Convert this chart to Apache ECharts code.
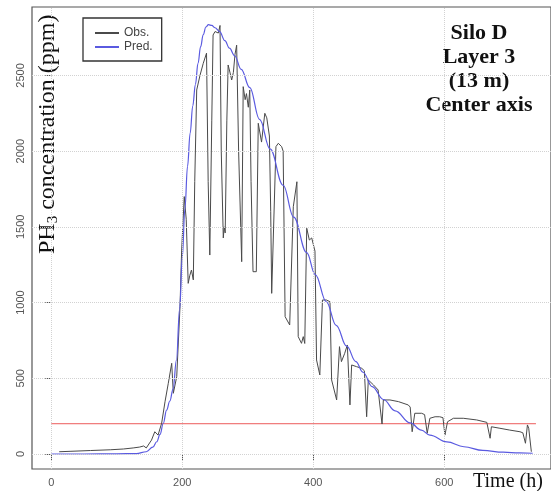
<!DOCTYPE html>
<html>
<head>
<meta charset="utf-8">
<script src="https://cdn.jsdelivr.net/npm/echarts@6/dist/echarts.min.js"></script>
<style>html,body{margin:0;padding:0;background:#fff}#c{width:551px;height:491px}</style>
</head>
<body>
<div id="c"></div>
<script>
// ---- data ----
var obsX = [12,30,60,90,110,125,135,141,145,153,158,163,168.5,173.6,178.6,183.8,186.3,191.5,196.5,199,203,206,209,211.5,214,216.8,219,222,227,232,237,239.5,242,245,247,250,253,255,257.6,259.5,262.6,264,265.5,268,270,273,275.4,278,280.5,283,286,290.7,293,296,298,300.8,303,305,308,313,316,321,326,329,333,335,336.5,339,343,346.6,351.7,354,357,364,369.5,375,377,382,384.7,387,390,394,397.6,402.6,405,410,414,420,425.5,428,435.7,440,443,448,452,456,458.6,466,474,478,481.5,484,492,499,502,505,507,517,530,545,548,551,555,565.5,570,574,578,586,593,598,601,605,614,629,649.5,665,668,670,672,685,700,715.6,720,724,727,729,733];
var obsY = [15,18,23,28,33,40,46,53,40,92,147,125,204,345,467,599,401,511,973,1347,1700,1550,1127,1180,1215,1150,1800,2404,2500,2580,2647,1800,1314,2200,2767,2790,2778,2780,2830,2000,1427,1500,1460,2200,2569,2516,2470,2520,2640,2700,2000,1270,2426,2340,2380,2290,2404,1800,1204,1204,2184,2060,2250,2220,2100,1600,1061,1050,2030,2052,2030,2000,907,852,1633,1798,775,731,775,730,1491,1413,1427,1340,621,522,1017,1017,1006,489,357,709,610,665,720,324,588,577,566,550,246,489,456,423,410,198,357,357,346,324,310,147,269,269,260,137,236,246,246,240,125,213,236,236,225,209,200,104,180,170,158,147,140,71,192,170,15];
var predX = [0,50,100,130,145,155,161,166,171,176,181,186,191,196,200,204,208,212,216,220,224,228,232,236,240,245,250,257,265,272,280,290,303,318,334,354,370,390,403,420,435,451,465,476,490,507,525,548,565,578,604,630,659,690,715,735];
var predY = [0,0,1,3,15,45,81,130,203,290,350,430,620,960,1300,1620,1900,2120,2300,2440,2580,2690,2770,2820,2835,2830,2815,2790,2730,2680,2630,2540,2420,2210,2015,1775,1565,1330,1185,1005,850,712,610,540,445,360,285,205,158,125,80,48,24,12,7,5];
var thresholdX = [0, 740];
var thresholdY = [200, 200];
var xTicks = [0, 200, 400, 600];
var yTicks = [0, 500, 1000, 1500, 2000, 2500];

function zip(a, b) { return a.map(function (v, i) { return [v, b[i]]; }); }

var chart = echarts.init(document.getElementById('c'), null, {renderer: 'canvas'});
var gridLine = {color: '#d2d2d2', type: 'dotted', width: 1};
var serif = '"Liberation Serif", "Times New Roman", serif';
var sans = 'Liberation Sans, Arial, sans-serif';
var option = {
  animation: false,
  backgroundColor: '#fff',
  grid: {left: 32, top: 7, right: 0, bottom: 22, show: true, borderColor: '#555', borderWidth: 1.2, backgroundColor: 'transparent'},
  xAxis: {
    type: 'value', min: -29.5, max: 763,
    axisLine: {show: false},
    splitLine: {show: false},
    axisTick: {show: true, customValues: xTicks, length: 6, lineStyle: {color: '#555'}},
    axisLabel: {customValues: xTicks, color: '#555', fontSize: 11, fontFamily: sans, margin: 8, formatter: function (v) { return String(v); }}
  },
  yAxis: {
    type: 'value', min: -99, max: 2952,
    axisLine: {show: false},
    splitLine: {show: false},
    axisTick: {show: true, customValues: yTicks, length: 6, lineStyle: {color: '#555'}},
    axisLabel: {customValues: yTicks, color: '#555', fontSize: 11, rotate: 90, fontFamily: sans, margin: 6, formatter: function (v) { return String(v); }}
  },
  legend: {
    left: 83, top: 18, orient: 'vertical',
    padding: [9, 9, 8, 12], itemGap: 2, itemWidth: 24, itemHeight: 2,
    borderColor: '#333', borderWidth: 1.3,
    textStyle: {color: '#444', fontSize: 12, fontFamily: sans},
    itemTextGap: 11,
    data: [{name: 'Obs.', icon: 'rect'}, {name: 'Pred.', icon: 'rect'}]
  },
  series: [
    {
      name: 'grid', type: 'line', data: [], silent: true,
      markLine: {
        silent: true, symbol: 'none', label: {show: false}, animation: false,
        lineStyle: gridLine,
        data: xTicks.map(function (v) { return {xAxis: v}; }).concat(yTicks.map(function (v) { return {yAxis: v}; }))
      }
    },
    {
      name: 'threshold', type: 'line', data: zip(thresholdX, thresholdY), symbol: 'none',
      lineStyle: {color: '#ec5a5a', width: 1}, silent: true
    },
    {
      name: 'Obs.', type: 'line', data: zip(obsX, obsY), symbol: 'none',
      itemStyle: {color: '#4a4a4a'}, lineStyle: {color: '#4a4a4a', width: 1}
    },
    {
      name: 'Pred.', type: 'line', data: zip(predX, predY), symbol: 'none', smooth: 0.4, smoothMonotone: 'x',
      itemStyle: {color: '#5a5ae0'}, lineStyle: {color: '#5a5ae0', width: 1.2}
    }
  ],
  graphic: [
    {
      type: 'text', x: 479, y: 21,
      style: {
        text: 'Silo D\nLayer 3\n(13 m)\nCenter axis', align: 'center',
        font: 'bold 22px ' + serif, fill: '#111', lineHeight: 24
      }
    },
    {
      type: 'text', x: 473, y: 472,
      style: {text: 'Time (h)', font: '20px ' + serif, fill: '#111'}
    },
    {
      type: 'text', x: 35, y: 254, rotation: Math.PI / 2,
      style: {
        text: '{a|PH}{s|3}{a| concentration (ppm)}',
        rich: {
          a: {fontSize: 24, fontFamily: serif, fill: '#111', lineHeight: 26, verticalAlign: 'middle'},
          s: {fontSize: 15, fontFamily: serif, fill: '#111', lineHeight: 26, verticalAlign: 'bottom'}
        },
        verticalAlign: 'top', align: 'left'
      }
    }
  ]
};
chart.setOption(option);
</script>
</body>
</html>
